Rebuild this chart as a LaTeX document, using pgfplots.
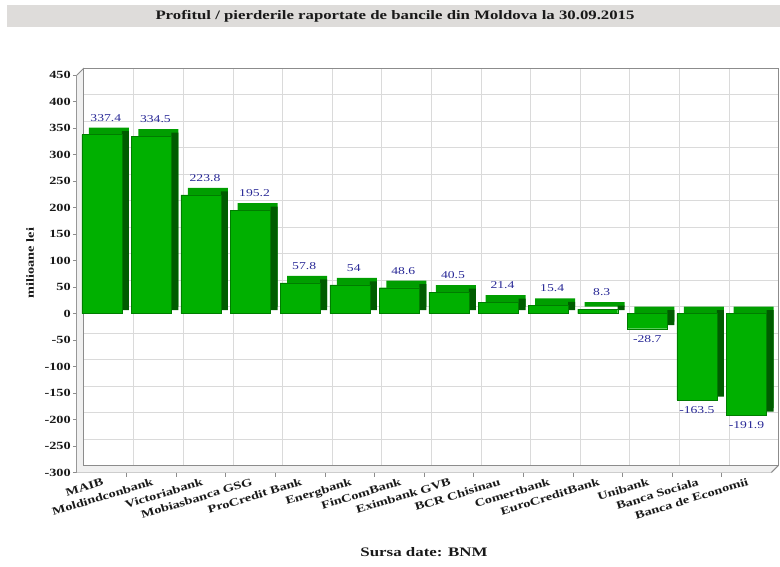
\documentclass[border=0pt]{standalone}
\usepackage{fontspec}
\setmainfont{Liberation Serif}[FakeStretch=1.3]
\usepackage{pgfplots}
\usepackage{pgfplotstable}
\pgfplotsset{compat=1.18}
\definecolor{frontgreen}{RGB}{0,176,0}
\definecolor{topgreen}{RGB}{0,158,0}
\definecolor{sidegreen}{RGB}{0,92,0}
\definecolor{edgegreen}{RGB}{0,125,0}
\definecolor{labelblue}{RGB}{40,40,150}
\definecolor{gridgrey}{RGB}{218,218,218}
\definecolor{framegrey}{RGB}{140,140,140}
\definecolor{bandgrey}{RGB}{222,220,218}
\definecolor{txt}{RGB}{25,25,25}

\pgfplotstableread[col sep=comma]{
x,y,lab
0,337.4,337.4
1,334.5,334.5
2,223.8,223.8
3,195.2,195.2
4,57.8,57.8
5,54,54
6,48.6,48.6
7,40.5,40.5
8,21.4,21.4
9,15.4,15.4
10,8.3,8.3
11,-28.7,-28.7
12,-163.5,-163.5
13,-191.9,-191.9
}\banks

\begin{document}
\begin{tikzpicture}
\useasboundingbox (-77pt,-93.5pt) rectangle (703pt,472.5pt);
\fill[bandgrey] (-70pt,445.5pt) rectangle (703pt,467.5pt);
\node[font=\fontsize{12.9}{14}\selectfont\bfseries, text=txt] at (318pt,456.5pt) {Profitul / pierderile raportate de bancile din Moldova la 30.09.2015};
\begin{axis}[
  scale only axis, width=694.3pt, height=397.5pt,
  xmin=-0.5, xmax=13.5, ymin=-300, ymax=450,
  clip=false,
  axis lines*=left,
  axis line style={draw=framegrey, line width=1pt},
  tick align=outside,
  ytick={-300,-250,-200,-150,-100,-50,0,50,100,150,200,250,300,350,400,450},
  yticklabels={-300,-250,-200,-150,-100,-50,0,50,100,150,200,250,300,350,400,450},
  ytick style={draw=framegrey, line width=0.8pt},
  major tick length=4pt,
  yticklabel style={font=\fontsize{11}{12}\selectfont\bfseries, text=txt, inner sep=2pt},
  xtick={0,1,2,3,4,5,6,7,8,9,10,11,12,13},
  xticklabels={MAIB,Moldindconbank,Victoriabank,Mobiasbanca GSG,ProCredit Bank,Energbank,FinComBank,Eximbank GVB,BCR Chisinau,Comertbank,EuroCreditBank,Unibank,Banca Sociala,Banca de Economii},
  x tick style={draw=none},
  xticklabel style={font=\fontsize{11}{12}\selectfont\bfseries, text=txt, rotate=17, anchor=north east, inner sep=1pt, xshift=1pt},
]
% wall slabs
\fill[gray!12] (axis cs:-0.5,-300) -- ([xshift=7pt,yshift=7pt]axis cs:-0.5,-300) -- ([xshift=7pt,yshift=7pt]axis cs:-0.5,450) -- (axis cs:-0.5,450) -- cycle;
\fill[gray!12] (axis cs:-0.5,-300) -- ([xshift=7pt,yshift=7pt]axis cs:-0.5,-300) -- ([xshift=7pt,yshift=7pt]axis cs:13.5,-300) -- (axis cs:13.5,-300) -- cycle;
% back wall grid
\pgfplotsinvokeforeach{-250,-200,-150,-100,-50,0,50,100,150,200,250,300,350,400}{
  \draw[gridgrey] ([xshift=7pt,yshift=7pt]axis cs:-0.5,#1) -- ([xshift=7pt,yshift=7pt]axis cs:13.5,#1);
}
\pgfplotsinvokeforeach{0.5,1.5,2.5,3.5,4.5,5.5,6.5,7.5,8.5,9.5,10.5,11.5,12.5}{
  \draw[gridgrey] ([xshift=7pt,yshift=7pt]axis cs:#1,-300) -- ([xshift=7pt,yshift=7pt]axis cs:#1,450);
}
% back wall frame
\draw[framegrey, line width=1pt] ([xshift=7pt,yshift=7pt]axis cs:-0.5,-300) -- ([xshift=7pt,yshift=7pt]axis cs:-0.5,450) -- ([xshift=7pt,yshift=7pt]axis cs:13.5,450) -- ([xshift=7pt,yshift=7pt]axis cs:13.5,-300) -- cycle;
\draw[framegrey, line width=1pt] (axis cs:-0.5,450) -- ([xshift=7pt,yshift=7pt]axis cs:-0.5,450);
\draw[framegrey, line width=1pt] (axis cs:13.5,-300) -- ([xshift=7pt,yshift=7pt]axis cs:13.5,-300);
% bars: top face copy, side face, front face
\addplot[ybar, bar width=40pt, bar shift=7pt, fill=topgreen, draw=none, transform canvas={yshift=7pt}] table[x=x, y=y] {\banks};
\addplot[ybar, bar width=7pt, bar shift=23.5pt, fill=sidegreen, draw=none, transform canvas={yshift=3.5pt}] table[x=x, y=y] {\banks};
\addplot[ybar, bar width=40pt, bar shift=0pt, fill=frontgreen, draw=edgegreen, line width=0.4pt,
  point meta=explicit symbolic,
  visualization depends on=rawy \as \rawy,
  nodes near coords,
  every node near coord/.append style={font=\fontsize{10.5}{12}\selectfont, text=labelblue, anchor=center,
     xshift={(\rawy>0)*4pt}, yshift={(\rawy>0)*27pt-10pt}},
] table[x=x, y=y, meta=lab] {\banks};
% front tick marks at category boundaries
\pgfplotsinvokeforeach{0.5,1.5,2.5,3.5,4.5,5.5,6.5,7.5,8.5,9.5,10.5,11.5,12.5}{
  \draw[framegrey, line width=0.8pt] (axis cs:#1,-300) -- ([yshift=-4pt]axis cs:#1,-300);
}
\end{axis}
\node[rotate=90, font=\fontsize{11}{12}\selectfont\bfseries, text=txt] at (-47pt,209.5pt) {milioane lei};
\node[font=\fontsize{13}{14}\selectfont\bfseries, text=txt] at (347pt,-79.5pt) {Sursa date: BNM};
\end{tikzpicture}
\end{document}
